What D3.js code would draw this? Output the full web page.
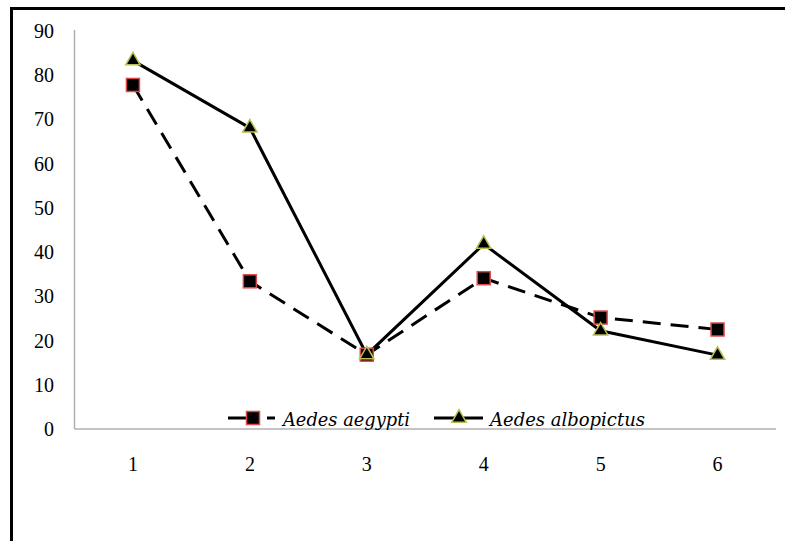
<!DOCTYPE html>
<html><head><meta charset="utf-8">
<script src="https://cdn.jsdelivr.net/npm/d3@7/dist/d3.min.js"></script>
<style>body{margin:0;background:#fff}svg{display:block}
.tick{font-family:'Times New Roman','Liberation Serif',Tinos,serif}
.leg{font-family:'DejaVu Serif',serif}</style>
</head><body>
<script>
const categories = ["1","2","3","4","5","6"];
const aegypti = [77.8, 33.4, 16.8, 34.1, 25.2, 22.5];
const albopictus = [83.3, 68.1, 16.8, 41.8, 22.2, 16.7];
const yTicks = [0,10,20,30,40,50,60,70,80,90];
const seriesNames = ["Aedes aegypti", "Aedes albopictus"];

const W = 785, H = 541;
const svg = d3.select("body").append("svg").attr("width", W).attr("height", H);

// outer frame (top and left only)
svg.append("line").attr("x1", 10).attr("x2", W).attr("y1", 8.5).attr("y2", 8.5)
  .attr("stroke", "#000").attr("stroke-width", 3);
svg.append("line").attr("x1", 11.5).attr("x2", 11.5).attr("y1", 7).attr("y2", H)
  .attr("stroke", "#000").attr("stroke-width", 3);

const x0 = 74.5, x1 = 776, y0 = 429, y1 = 31;
const x = d3.scaleBand().domain(categories).range([x0, x1]);
const y = d3.scaleLinear().domain([0, 90]).range([y0, y1]);

// axes lines
svg.append("line").attr("x1", x0).attr("x2", x0).attr("y1", y(90)-1).attr("y2", y0)
  .attr("stroke", "#b0b0b0").attr("stroke-width", 1.5);
svg.append("line").attr("x1", x0).attr("x2", x1).attr("y1", y0).attr("y2", y0)
  .attr("stroke", "#b0b0b0").attr("stroke-width", 1.5);

// y tick labels
svg.append("g").selectAll("text").data(yTicks).join("text").attr("class", "tick")
  .attr("x", 54).attr("y", d => y(d)).attr("dy", "0.35em")
  .attr("text-anchor", "end")
  .attr("font-size", 20).attr("fill", "#000").text(d => d);

// x tick labels
svg.append("g").selectAll("text").data(categories).join("text").attr("class", "tick")
  .attr("x", d => x(d) + x.bandwidth()/2).attr("y", 464).attr("dy", "0.35em")
  .attr("text-anchor", "middle")
  .attr("font-size", 20).attr("fill", "#000").text(d => d);

const cx = (d, i) => x(categories[i]) + x.bandwidth()/2;
const line = d3.line().x((d, i) => cx(d, i)).y(d => y(d));

svg.append("path").datum(aegypti).attr("d", line).attr("fill", "none")
  .attr("stroke", "#000").attr("stroke-width", 3).attr("stroke-dasharray", "18,10");
svg.append("path").datum(albopictus).attr("d", line).attr("fill", "none")
  .attr("stroke", "#000").attr("stroke-width", 3);

const tri = d3.symbol().type(d3.symbolTriangle).size(90);

svg.append("g").selectAll("rect").data(aegypti).join("rect")
  .attr("x", (d, i) => cx(d, i) - 6.5).attr("y", d => y(d) - 6.5)
  .attr("width", 13).attr("height", 13)
  .attr("fill", "#000").attr("stroke", "#e04848").attr("stroke-width", 1.5);
svg.append("g").selectAll("path").data(albopictus).join("path")
  .attr("transform", (d, i) => `translate(${cx(d, i)},${y(d)})`)
  .attr("d", tri).attr("fill", "#000").attr("stroke", "#b8c050").attr("stroke-width", 1.5);

// legend
const ly = 418;
const lg = svg.append("g");
lg.append("line").attr("x1", 228).attr("x2", 246).attr("y1", ly).attr("y2", ly)
  .attr("stroke", "#000").attr("stroke-width", 3);
lg.append("line").attr("x1", 267).attr("x2", 275).attr("y1", ly).attr("y2", ly)
  .attr("stroke", "#000").attr("stroke-width", 3);
lg.append("rect").attr("x", 253 - 6.5).attr("y", ly - 6.5).attr("width", 13).attr("height", 13)
  .attr("fill", "#000").attr("stroke", "#e04848").attr("stroke-width", 1.5);
lg.append("text").attr("class", "leg").attr("x", 283).attr("y", 426)
  .attr("font-style", "italic")
  .attr("font-size", 18).attr("textLength", 127).attr("lengthAdjust", "spacingAndGlyphs").text(seriesNames[0]);
lg.append("line").attr("x1", 434).attr("x2", 483).attr("y1", ly).attr("y2", ly)
  .attr("stroke", "#000").attr("stroke-width", 3);
lg.append("path").attr("transform", `translate(459,${ly})`).attr("d", tri)
  .attr("fill", "#000").attr("stroke", "#b8c050").attr("stroke-width", 1.5);
lg.append("text").attr("class", "leg").attr("x", 490).attr("y", 426)
  .attr("font-style", "italic")
  .attr("font-size", 18).attr("textLength", 155).attr("lengthAdjust", "spacingAndGlyphs").text(seriesNames[1]);
</script>
</body></html>
